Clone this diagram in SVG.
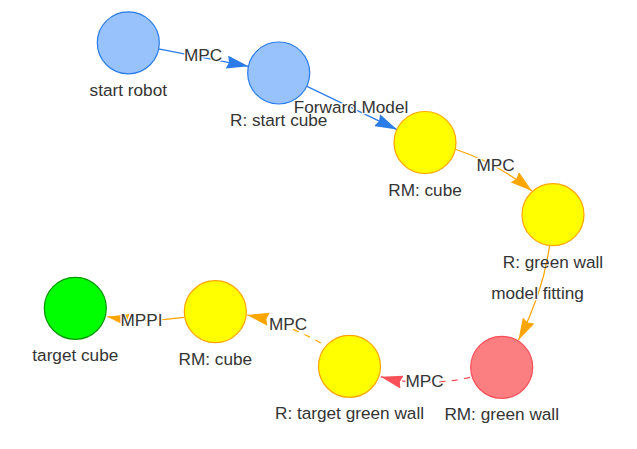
<svg xmlns="http://www.w3.org/2000/svg" width="637" height="449" viewBox="0 0 637 449">
  <defs>
    <style>
      .lbl { font-family: "Liberation Sans", Arial, sans-serif; font-size: 17.2px; fill: #343434; text-anchor: middle; }
      .elbl { paint-order: stroke; stroke: #ffffff; stroke-width: 2.5px; stroke-linejoin: round; }
      .edge { fill: none; stroke-width: 1.24; }
      .blue { stroke: #2B7CE9; }
      .orange { stroke: #FFA500; }
      .red { stroke: #F9505A; }
      .dash { stroke-dasharray: 6.2 6.2; }
      .n-blue { fill: #97C2FC; stroke: #2B7CE9; stroke-width: 1.24; }
      .n-yellow { fill: #FFFF00; stroke: #FFA500; stroke-width: 1.24; }
      .n-red { fill: #FB7E81; stroke: #F9505A; stroke-width: 1.24; }
      .n-green { fill: #00FF00; stroke: #009900; stroke-width: 1.24; }
    </style>
    <marker id="arr-blue" markerUnits="userSpaceOnUse" markerWidth="22" markerHeight="13.2" refX="22" refY="6.6" orient="auto" viewBox="0 0 22 13.2">
      <path d="M22,6.6 L0,13.2 L2.2,6.6 L0,0 Z" fill="#2B7CE9"/>
    </marker>
    <marker id="arr-orange" markerUnits="userSpaceOnUse" markerWidth="22" markerHeight="13.2" refX="22" refY="6.6" orient="auto" viewBox="0 0 22 13.2">
      <path d="M22,6.6 L0,13.2 L2.2,6.6 L0,0 Z" fill="#FFA500"/>
    </marker>
    <marker id="arr-red" markerUnits="userSpaceOnUse" markerWidth="22" markerHeight="13.2" refX="22" refY="6.6" orient="auto" viewBox="0 0 22 13.2">
      <path d="M22,6.6 L0,13.2 L2.2,6.6 L0,0 Z" fill="#F9505A"/>
    </marker>
  </defs>
  <rect width="637" height="449" fill="#ffffff"/>
  <g id="connectors">
    <path class="edge blue" d="M158.5,48.8 L248.5,66.3" marker-end="url(#arr-blue)"/>
    <path class="edge blue" d="M307,86.4 L397,129.6" marker-end="url(#arr-blue)"/>
    <path class="edge orange" d="M456,149.5 Q497,163 532,191" marker-end="url(#arr-orange)"/>
    <path class="edge orange" d="M549.5,246 Q543,293 518.5,340" marker-end="url(#arr-orange)"/>
    <path class="edge red dash" d="M470,377.3 Q424.6,388 380.7,376.7" marker-end="url(#arr-red)"/>
    <path class="edge orange dash" d="M321,343 Q283,322 247,315" marker-end="url(#arr-orange)"/>
    <path class="edge orange" d="M184,317.3 Q144.3,323 107.3,316.7" marker-end="url(#arr-orange)"/>
    <text class="lbl elbl" x="203" y="61">MPC</text>
    <text class="lbl elbl" x="351" y="113">Forward Model</text>
    <text class="lbl elbl" x="495.5" y="171">MPC</text>
    <text class="lbl elbl" x="537.5" y="299">model fitting</text>
    <text class="lbl elbl" x="424.5" y="387">MPC</text>
    <text class="lbl elbl" x="288" y="329.5">MPC</text>
    <text class="lbl elbl" x="141.5" y="326">MPPI</text>
  </g>
  <g id="start-robot">
    <circle class="n-blue" cx="128.3" cy="42.8" r="31"/>
    <text class="lbl" x="128.3" y="96">start robot</text>
  </g>
  <g id="r-start-cube">
    <circle class="n-blue" cx="278.7" cy="73" r="31"/>
    <text class="lbl" x="278.7" y="126">R: start cube</text>
  </g>
  <g id="rm-cube-1">
    <circle class="n-yellow" cx="425" cy="142.5" r="31"/>
    <text class="lbl" x="425" y="195.5">RM: cube</text>
  </g>
  <g id="r-green-wall">
    <circle class="n-yellow" cx="553" cy="214.7" r="31"/>
    <text class="lbl" x="553" y="268">R: green wall</text>
  </g>
  <g id="rm-green-wall">
    <circle class="n-red" cx="501.7" cy="367.3" r="31"/>
    <text class="lbl" x="501.7" y="420">RM: green wall</text>
  </g>
  <g id="r-target-green-wall">
    <circle class="n-yellow" cx="349.5" cy="366.3" r="31"/>
    <text class="lbl" x="349.5" y="419">R: target green wall</text>
  </g>
  <g id="rm-cube-2">
    <circle class="n-yellow" cx="215.3" cy="311.7" r="31"/>
    <text class="lbl" x="215.3" y="365">RM: cube</text>
  </g>
  <g id="target-cube">
    <circle class="n-green" cx="75.3" cy="308.3" r="31"/>
    <text class="lbl" x="75.3" y="361">target cube</text>
  </g>
</svg>
